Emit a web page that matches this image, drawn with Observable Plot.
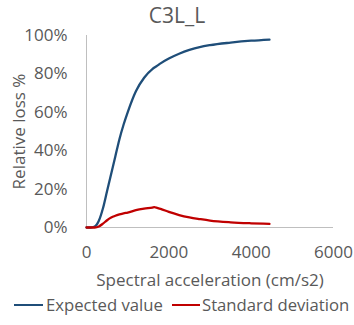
<!DOCTYPE html>
<html><head><meta charset="utf-8">
<script src="https://cdn.jsdelivr.net/npm/d3@7"></script>
<script src="https://cdn.jsdelivr.net/npm/@observablehq/plot@0.6"></script>
<style>
body{margin:0;background:#fff;font-family:"Open Sans",sans-serif;color:#595959;}
#wrap{position:relative;width:354px;height:325px;overflow:hidden;background:#fff}
#title{position:absolute;left:0;top:0;width:354px;text-align:center;font-size:21px;line-height:30px;}
#chart{position:absolute;left:0;top:22px}
#legend{position:absolute;left:0;top:294px;width:354px;height:22px;font-size:16.7px;}
.li{position:absolute;top:0;line-height:22px;white-space:nowrap}
.sw{position:absolute;top:10px;height:2px}
</style></head>
<body><div id="wrap">
<div id="chart"></div>
<div id="title">C3L_L</div>
<div id="legend"></div>
</div>
<script>
const titleText = "C3L_L";
const xLabel = "Spectral acceleration (cm/s2)";
const yLabel = "Relative loss %";
const seriesNames = ["Expected value", "Standard deviation"];
const seriesColors = ["#1F4E79", "#C00000"];
const accel = [0,100,200,300,400,500,600,700,800,900,1000,1200,1400,1600,1650,1700,1800,2000,2250,2500,2750,3000,3500,4000,4445];
const expectedValue = [0,0,0.005,0.035,0.10,0.19,0.28,0.37,0.46,0.535,0.60,0.71,0.78,0.825,0.833,0.84,0.855,0.88,0.905,0.925,0.94,0.95,0.963,0.973,0.979];
const standardDeviation = [0,0,0,0.005,0.02,0.038,0.052,0.061,0.068,0.074,0.078,0.09,0.098,0.104,0.106,0.103,0.097,0.081,0.065,0.053,0.044,0.036,0.027,0.022,0.019];
const xTicks = [0,2000,4000,6000];
const yTicks = [0,0.2,0.4,0.6,0.8,1.0];

const rows = [];
accel.forEach((a,i)=>{
  rows.push({x:a, y:expectedValue[i], s:seriesNames[0]});
});
accel.forEach((a,i)=>{
  rows.push({x:a, y:standardDeviation[i], s:seriesNames[1]});
});

const fs = 17;
const chart = Plot.plot({
  width: 354, height: 271,
  marginLeft: 86, marginRight: 21, marginTop: 13, marginBottom: 66,
  style: {fontFamily: "'Open Sans', sans-serif", fontSize: fs+"px", color: "#595959", background: "transparent", overflow: "visible"},
  x: {domain: [0,6000], ticks: xTicks, label: null},
  y: {domain: [0,1], ticks: yTicks, label: null},
  color: {domain: seriesNames, range: seriesColors},
  marks: [
    Plot.ruleY([0], {stroke: "#BFBFBF", strokeWidth: 1}),
    Plot.ruleX([0], {stroke: "#BFBFBF", strokeWidth: 1}),
    Plot.axisX({ticks: xTicks, tickSize: 0, tickPadding: 18, tickFormat: d=>String(d), fill: "#595959", label: null, fontSize: fs}),
    Plot.axisY({ticks: yTicks, tickSize: 0, tickPadding: 19, tickFormat: d=>Math.round(d*100)+"%", fill: "#595959", label: null, fontSize: fs}),
    Plot.line(rows, {x: "x", y: "y", z: "s", stroke: "s", strokeWidth: 2.3, curve: "monotone-x"}),
    Plot.text([xLabel], {frameAnchor: "bottom", dy: 58, lineAnchor: "bottom", fill: "#595959", fontSize: fs}),
    Plot.text([yLabel], {frameAnchor: "left", dx: -67, rotate: -90, lineAnchor: "middle", textAnchor: "middle", fill: "#595959", fontSize: fs})
  ]
});
document.getElementById("chart").appendChild(chart);
document.getElementById("title").textContent = titleText;

const leg = document.getElementById("legend");
const legPos = [{sw:14, w:29, tx:46},{sw:172, w:28, tx:202}];
seriesNames.forEach((n,i)=>{
  const sw = document.createElement("div");
  sw.className = "sw";
  sw.style.left = legPos[i].sw+"px";
  sw.style.width = legPos[i].w+"px";
  sw.style.background = seriesColors[i];
  leg.appendChild(sw);
  const t = document.createElement("div");
  t.className = "li";
  t.style.left = legPos[i].tx+"px";
  t.textContent = n;
  leg.appendChild(t);
});
</script>
</body></html>
